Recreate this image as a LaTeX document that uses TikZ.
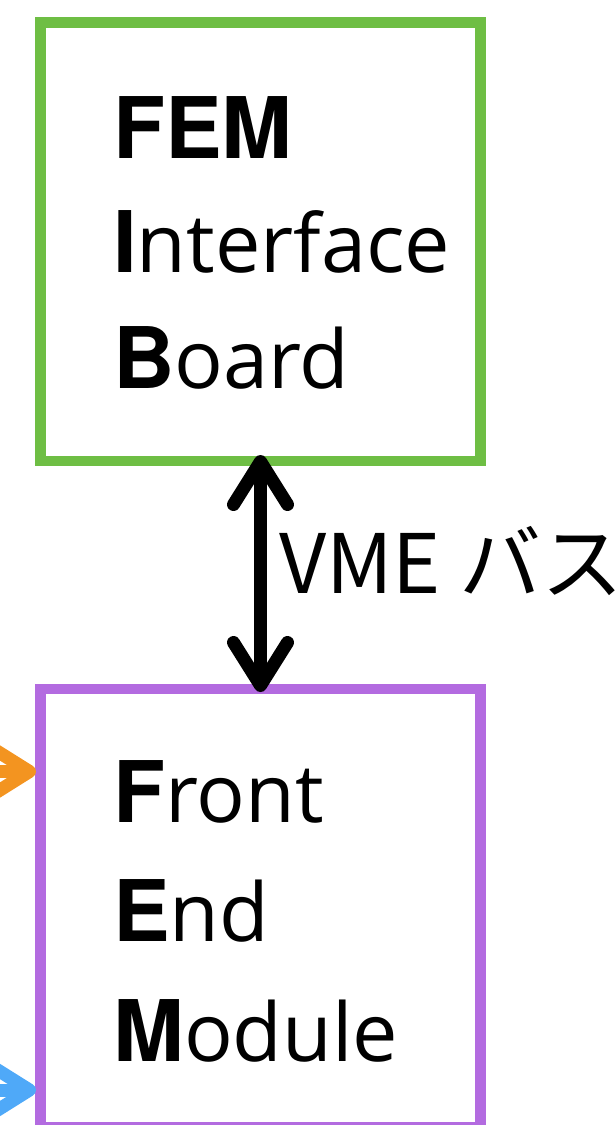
\documentclass[tikz,border=0pt]{standalone}
\usepackage{fontspec}
\setmainfont{Open Sans}
\newfontfamily\herosfont{TeX Gyre Heros}
\newfontfamily\jpfont{Noto Sans CJK JP}
\newcommand\mycapletter[1]{{\herosfont\bfseries\fontsize{85}{100}\selectfont #1}}
\usetikzlibrary{arrows.meta}
\definecolor{fibgreen}{HTML}{6EBE44}
\definecolor{fempurple}{HTML}{B36BE0}
\definecolor{inorange}{HTML}{F39420}
\definecolor{inblue}{HTML}{4FA9F8}
\begin{document}
\begin{tikzpicture}[x=1pt,y=-1pt,
  box/.style={draw, line width=10.5pt, outer sep=0pt, inner sep=0pt, minimum width=440pt, minimum height=438.5pt},
  txt/.style={inner sep=0pt, anchor=base west, font=\fontsize{81}{100}\selectfont},
  lbl/.style={inner sep=0pt, anchor=base west, font=\jpfont\fontsize{82}{100}\selectfont},
  barb/.style={line width=13pt, -{Straight Barb[length=43pt, width=54pt, line cap=round, line join=round]}},
  dblbarb/.style={line width=13pt, {Straight Barb[length=43pt, width=54pt, line cap=round, line join=round]}-{Straight Barb[length=43pt, width=54pt, line cap=round, line join=round]}}
]
\useasboundingbox (0,0) rectangle (615,1125);
\node[box, draw=fibgreen] (fib) at (260.5,241.75) {};
\node[box, draw=fempurple] (fem) at (260.5,908.25) {};
\node[txt] (fib1) at (113,158) {\mycapletter{FEM}};
\node[txt] (fib2) at (113,272) {\mycapletter{I}nterface};
\node[txt] (fib3) at (113,388) {\mycapletter{B}oard};
\node[txt] (fem1) at (113,822) {\mycapletter{F}ront};
\node[txt] (fem2) at (113,941) {\mycapletter{E}nd};
\node[txt] (fem3) at (113,1061) {\mycapletter{M}odule};
\draw[dblbarb, shorten <=-6pt, shorten >=-3pt] (fib.south) -- (fem.north);
\node[lbl] (vme) at (279,593) {VME バス};
\coordinate (osrc) at (-60,771.5);
\coordinate (bsrc) at (-60,1090);
\draw[barb, draw=inorange, shorten >=4.5pt] (osrc) -- (osrc -| fem.west);
\draw[barb, draw=inblue, shorten >=4.5pt] (bsrc) -- (bsrc -| fem.west);
\end{tikzpicture}
\end{document}
